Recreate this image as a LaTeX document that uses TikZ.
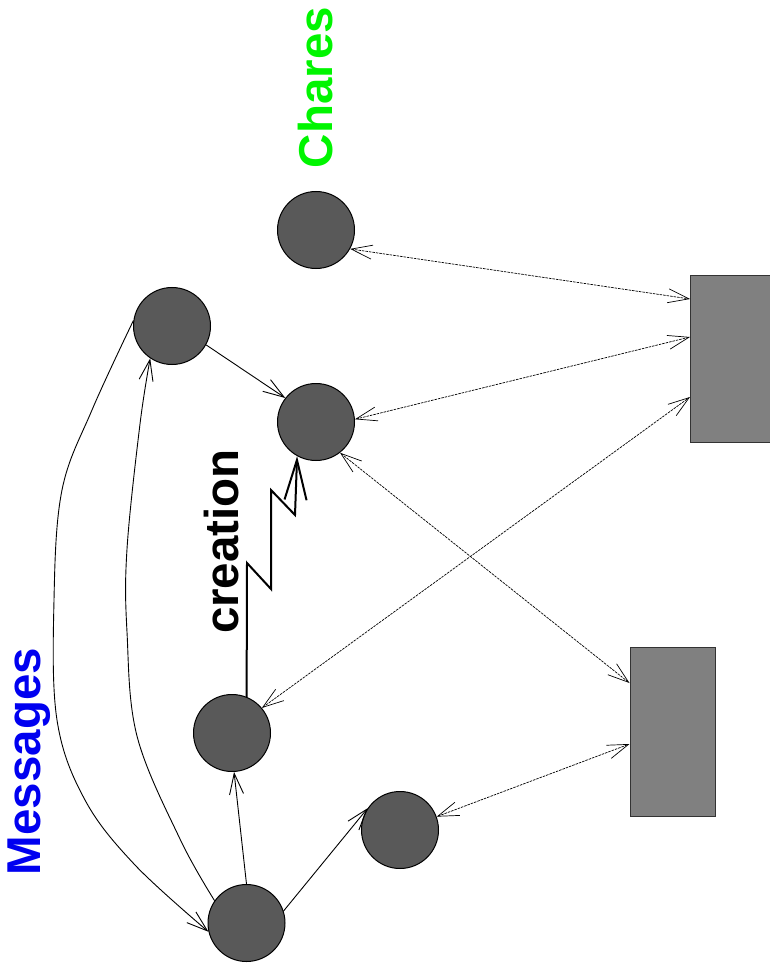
\documentclass[tikz,border=0pt]{standalone}
\usepackage{fontspec}
\setmainfont{Liberation Sans}
\usetikzlibrary{arrows.meta}
\definecolor{circgray}{RGB}{89,89,89}
\definecolor{procgray}{RGB}{128,128,128}
\definecolor{chgreen}{RGB}{0,245,0}
\definecolor{msgblue}{RGB}{0,0,240}
\begin{document}
\begin{tikzpicture}[x=1pt,y=-1pt,
  chare/.style={circle,draw=black,line width=1pt,fill=circgray,minimum size=77pt,inner sep=0pt},
  proc/.style={rectangle,draw=black!80,line width=1pt,fill=procgray,inner sep=0pt},
  barb/.tip={Straight Barb[length=21pt,width=14pt]},
  msg/.style={line width=0.9pt,-barb},
  link/.style={line width=0.7pt,dash pattern=on 2.5pt off 1pt,barb-barb},
  lbl/.style={font=\fontsize{47.5}{52}\selectfont\bfseries,rotate=90,inner sep=0pt}]
\useasboundingbox (0,0) rectangle (769,965);

\node[chare] (c1) at (316,230) {};
\node[chare] (c2) at (172,326) {};
\node[chare] (c3) at (316,422) {};
\node[chare] (c4) at (232,733) {};
\node[chare] (c5) at (400,830) {};
\node[chare] (c6) at (246.5,923) {};

\node[proc,minimum width=80pt,minimum height=166pt] (r1) at (730.5,359) {};
\node[proc,minimum width=85pt,minimum height=169pt] (r2) at (672.5,731.5) {};

\node[lbl,text=chgreen] (chares) at (316,87.5) {Chares};
\node[lbl,text=msgblue] (messages) at (29,761.5) {Messages};
\node[lbl,text=black] (creation) at (222,541.5) {creation};

% messages
\draw[msg] (c2.-29) -- (c3.142);
\draw[msg] (c6.north) -- (c4.-87);
\draw[msg] (c6.18) -- (c5.146);
\draw[msg] plot[smooth,tension=0.6] coordinates {(c2.172) (92,410) (62,490) (54,600) (57,720) (85,800) (135,865) (c6.-167)};
\draw[msg] plot[smooth,tension=0.6] coordinates {(c6.145) (180,839) (137,736) (127,632) (127,549) (140,424) (c2.236)};

% creation
\draw[line width=2pt,-{Straight Barb[length=40pt,width=22pt]}] (c4.68) -- (247,563) -- (271,589) -- (271,490) -- (295,515) -- (c3.-119);

% processor links
\draw[link] (c1.-29) -- ([yshift=60pt]r1.west);
\draw[link] (c3.4) -- ([yshift=22pt]r1.west);
\draw[link] (c4.40) -- ([yshift=-38pt]r1.west);
\draw[link] (c3.-52) -- ([yshift=48.5pt]r2.west);
\draw[link] (c5.20) -- ([yshift=-12.5pt]r2.west);
\end{tikzpicture}
\end{document}
